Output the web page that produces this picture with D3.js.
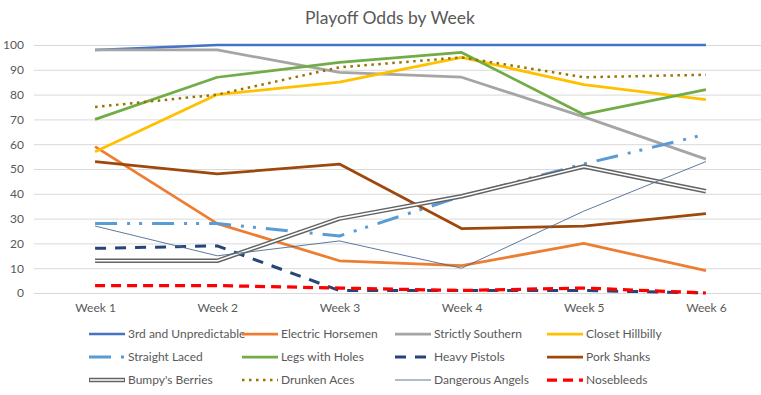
<!DOCTYPE html>
<html>
<head>
<meta charset="utf-8">
<script src="https://cdn.jsdelivr.net/npm/d3@7"></script>
<style>
  body { margin: 0; background: #fff; }
  text { font-family: Lato, "Open Sans", sans-serif; fill: #595959; }
</style>
</head>
<body>
<div id="chart"></div>
<script>
// categories and tick labels
var weeks = ["Week 1", "Week 2", "Week 3", "Week 4", "Week 5", "Week 6"];
var yTicks = [0, 10, 20, 30, 40, 50, 60, 70, 80, 90, 100];

// series names in legend order
var teams = ["3rd and Unpredictable", "Electric Horsemen", "Strictly Southern", "Closet Hillbilly",
             "Straight Laced", "Legs with Holes", "Heavy Pistols", "Pork Shanks",
             "Bumpy's Berries", "Drunken Aces", "Dangerous Angels", "Nosebleeds"];

// playoff odds per week
var thirdAndUnpredictable = [98, 100, 100, 100, 100, 100];
var electricHorsemen      = [59, 28, 13, 11, 20, 9];
var strictlySouthern      = [98, 98, 89, 87, 71, 54];
var closetHillbilly       = [57, 80, 85, 95, 84, 78];
var straightLaced         = [28, 28, 23, 39, 52, 64];
var legsWithHoles         = [70, 87, 93, 97, 72, 82];
var heavyPistols          = [18, 19, 1, 1, 1, 0];
var porkShanks            = [53, 48, 52, 26, 27, 32];
var bumpysBerries         = [13, 13, 30, 39, 51, 41];
var drunkenAces           = [75, 80, 91, 95, 87, 88];
var dangerousAngels       = [27, 15, 21, 10, 33, 53];
var nosebleeds            = [3, 3, 2, 1, 2, 0];

var values = [thirdAndUnpredictable, electricHorsemen, strictlySouthern, closetHillbilly,
              straightLaced, legsWithHoles, heavyPistols, porkShanks,
              bumpysBerries, drunkenAces, dangerousAngels, nosebleeds];

// line styles, one per series
var styles = [
  {color: "#4472C4", width: 2.5},
  {color: "#ED7D31", width: 2.75},
  {color: "#A5A5A5", width: 2.75},
  {color: "#FFC000", width: 2.75},
  {color: "#5B9BD5", width: 3, dash: "22,10,3,9,3,10"},
  {color: "#70AD47", width: 2.75},
  {color: "#264478", width: 3, dash: "11,9"},
  {color: "#9E480E", width: 2.75},
  {color: "#636363", width: 4.5, double: true},
  {color: "#997300", width: 2.5, dash: "2.5,4.5"},
  {color: "#4A6A93", width: 0.9},
  {color: "#FF0000", width: 3.25, dash: "10,6"}
];

var outerWidth = 761,
    outerHeight = 395,
    plot = {left: 34, right: 767, top: 45, bottom: 293};

var svg = d3.select("#chart")
    .append("svg")
    .attr("width", outerWidth)
    .attr("height", outerHeight);

var xScale = d3.scalePoint()
    .domain(weeks)
    .range([plot.left, plot.right])
    .padding(0.5);

var yScale = d3.scaleLinear()
    .domain([0, 100])
    .range([plot.bottom, plot.top]);

// title
svg.append("text")
    .attr("x", 390)
    .attr("y", 24)
    .attr("text-anchor", "middle")
    .style("font-size", "17.5px")
    .text("Playoff Odds by Week");

// horizontal gridlines plus y labels
var yAxis = svg.append("g")
    .attr("transform", "translate(" + plot.left + ",0)")
    .call(d3.axisLeft(yScale)
        .tickValues(yTicks)
        .tickSize(-(outerWidth - plot.left))
        .tickPadding(10));

yAxis.select(".domain").remove();
yAxis.selectAll("line").attr("stroke", "#D9D9D9");
yAxis.selectAll("text")
    .style("font-size", "12px")
    .attr("fill", "#595959");

// x labels
var xAxis = svg.append("g")
    .attr("transform", "translate(0," + plot.bottom + ")")
    .call(d3.axisBottom(xScale).tickSize(0).tickPadding(10));

xAxis.select(".domain").remove();
xAxis.selectAll("text")
    .style("font-size", "12px")
    .attr("fill", "#595959");

var line = d3.line()
    .x((d, i) => xScale(weeks[i]))
    .y(d => yScale(d));

// draw the series
var lines = svg.append("g");

values.forEach(function(series, k) {
  var s = styles[k];
  lines.append("path")
      .attr("d", line(series))
      .attr("fill", "none")
      .attr("stroke", s.color)
      .attr("stroke-width", s.width)
      .attr("stroke-linejoin", "round")
      .attr("stroke-dasharray", s.dash || null);
  if (s.double) {
    lines.append("path")
        .attr("d", line(series))
        .attr("fill", "none")
        .attr("stroke", "#fff")
        .attr("stroke-width", 1.6)
        .attr("stroke-linejoin", "round");
  }
});

// legend: 4 columns, 3 rows
var legendX = [89, 242, 395, 547],
    legendY = [334, 357, 380],
    swatch = 36;

var legend = svg.append("g");

teams.forEach(function(name, k) {
  var s = styles[k],
      x = legendX[k % 4],
      y = legendY[Math.floor(k / 4)];

  legend.append("line")
      .attr("x1", x).attr("x2", x + swatch)
      .attr("y1", y).attr("y2", y)
      .attr("stroke", s.color)
      .attr("stroke-width", s.width)
      .attr("stroke-dasharray", s.dash || null);
  if (s.double) {
    legend.append("line")
        .attr("x1", x + 1).attr("x2", x + swatch - 1)
        .attr("y1", y).attr("y2", y)
        .attr("stroke", "#fff")
        .attr("stroke-width", 1.6);
  }

  legend.append("text")
      .attr("x", x + swatch + 3)
      .attr("y", y + 4)
      .style("font-size", "12px")
      .text(name);
});
</script>
</body>
</html>
